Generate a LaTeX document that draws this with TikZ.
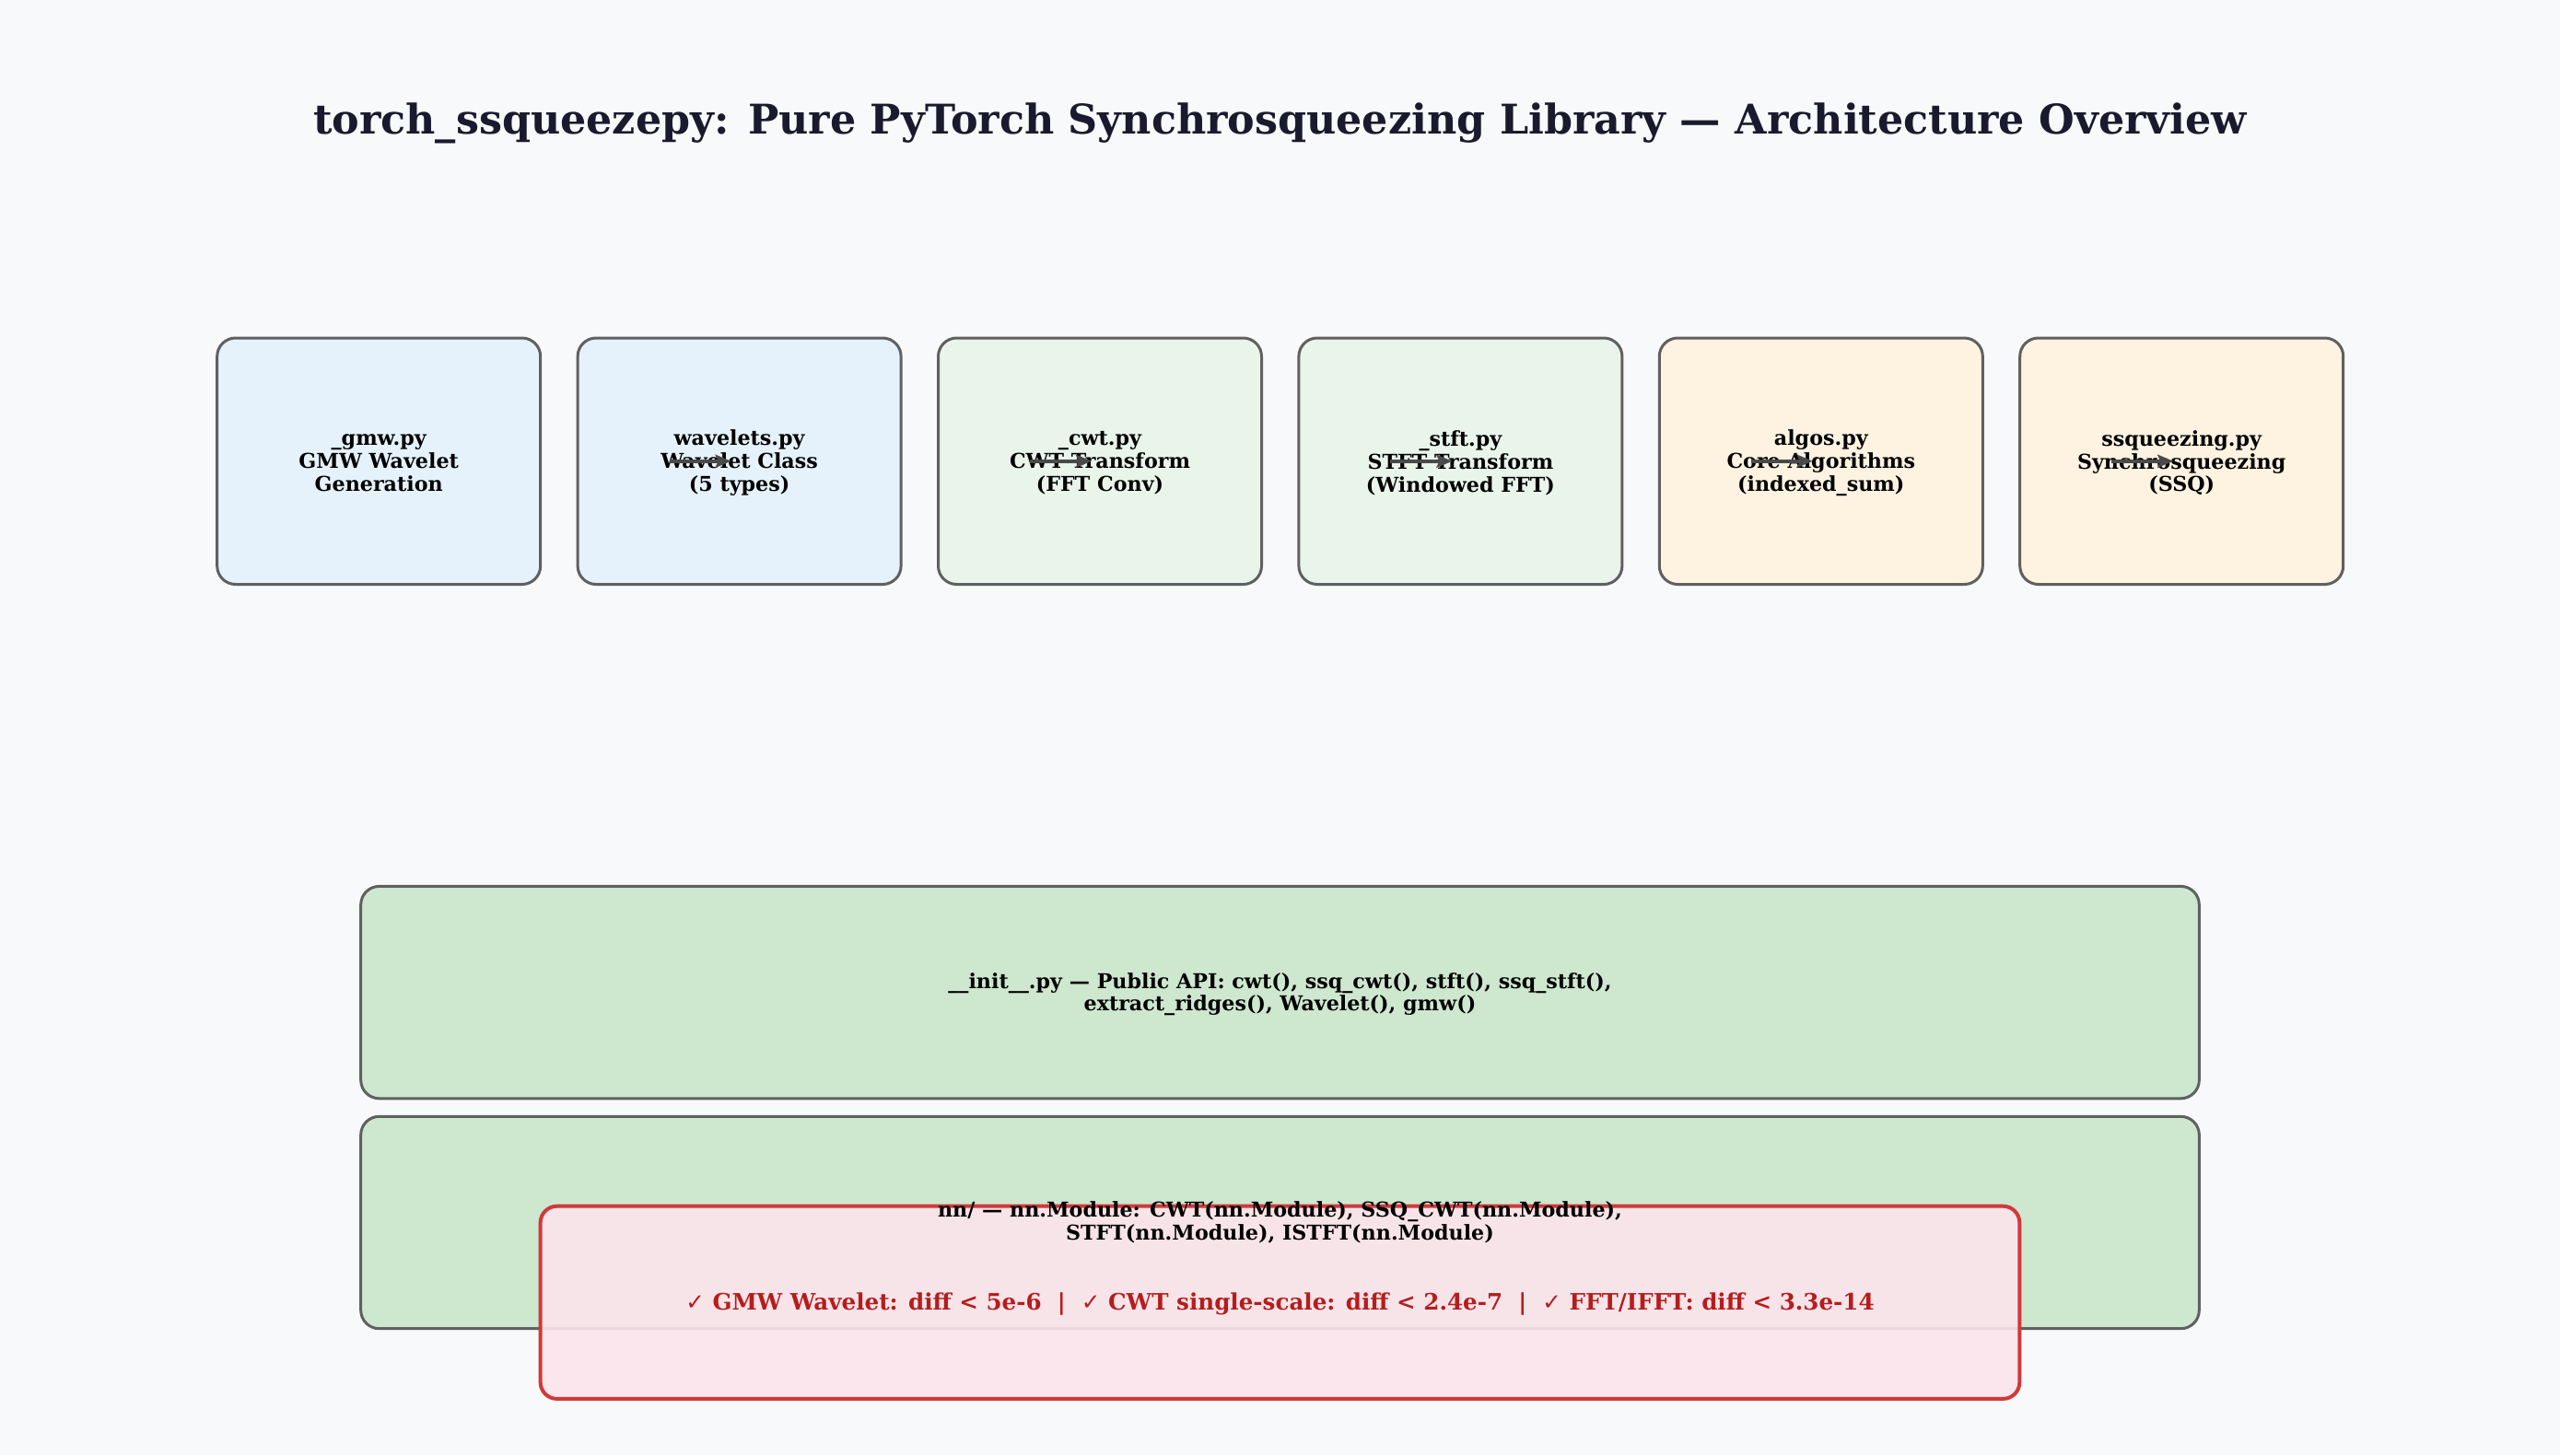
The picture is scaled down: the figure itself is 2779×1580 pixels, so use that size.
\documentclass[tikz,border=0pt]{standalone}
\usepackage{fontspec}
\setmainfont{DejaVu Serif}
\newfontfamily\symfont{DejaVu Sans}
\usetikzlibrary{arrows.meta}
\definecolor{bgcol}{HTML}{F8F9FA}
\definecolor{titlecol}{HTML}{1A1A2E}
\definecolor{bordercol}{HTML}{606060}
\definecolor{bluefill}{HTML}{E5F2FC}
\definecolor{greenfill}{HTML}{E9F4EA}
\definecolor{orangefill}{HTML}{FEF2E1}
\definecolor{apifill}{HTML}{CEE7CF}
\definecolor{redborder}{HTML}{D03A3A}
\definecolor{redfill}{HTML}{FCE4EC}
\definecolor{redtext}{HTML}{B71C1C}
\definecolor{arrowcol}{HTML}{4A4A4A}
\tikzset{
  filebox/.style={draw=bordercol, line width=1.5pt, rounded corners=10pt,
    minimum width=175.5pt, minimum height=133.75pt, inner sep=0pt},
  layerbox/.style={draw=bordercol, line width=1.5pt, rounded corners=10pt, fill=apifill,
    minimum width=997.8pt, minimum height=115.2pt, inner sep=0pt},
  boxtext/.style={align=center, font=\bfseries\fontsize{11.1}{12.4}\selectfont, text=black, inner sep=0pt},
  redbox/.style={draw=redborder, line width=2pt, rounded corners=9pt, fill=redfill, fill opacity=0.9,
    minimum width=802.85pt, minimum height=104.6pt, inner sep=0pt},
  conn/.style={draw=arrowcol, line width=2.2pt, -{Stealth[length=8.5pt,width=7pt,inset=1.5pt]}}
}
\begin{document}
\begin{tikzpicture}[x=0.5pt,y=-0.5pt]
\fill[bgcol] (0,0) rectangle (2779,1580);
\useasboundingbox (0,0) rectangle (2779,1580);

\node[font=\bfseries\fontsize{22.2}{26}\selectfont, text=titlecol] (title) at (1389.5,134)
  {torch\_ssqueezepy: Pure PyTorch Synchrosqueezing Library — Architecture Overview};

\node[filebox, fill=bluefill] (gmw) at (411.2,500.75) {};
\node[filebox, fill=bluefill] (wav) at (802.6,500.75) {};
\node[filebox, fill=greenfill] (cwt) at (1194,500.75) {};
\node[filebox, fill=greenfill] (stft) at (1585.4,500.75) {};
\node[filebox, fill=orangefill] (algos) at (1976.8,500.75) {};
\node[filebox, fill=orangefill] (ssq) at (2368.2,500.75) {};

\node[boxtext] (gmwt) at ([yshift=-1pt]gmw.center) {\_gmw.py\\GMW Wavelet\\Generation};
\node[boxtext] (wavt) at ([yshift=-1pt]wav.center) {wavelets.py\\Wavelet Class\\(5 types)};
\node[boxtext] (cwtt) at ([yshift=-1pt]cwt.center) {\_cwt.py\\CWT Transform\\(FFT Conv)};
\node[boxtext] (stftt) at ([yshift=-1pt]stft.center) {\_stft.py\\STFT Transform\\(Windowed FFT)};
\node[boxtext] (algost) at ([yshift=-1pt]algos.center) {algos.py\\Core Algorithms\\(indexed\_sum)};
\node[boxtext] (ssqt) at ([yshift=-1pt]ssq.center) {ssqueezing.py\\Synchrosqueezing\\(SSQ)};

\node[layerbox] (api) at (1389.5,1077.6) {};
\node[layerbox] (nn) at (1389.5,1327.5) {};
\node[redbox] (val) at (1389.5,1414.3) {};

\node[boxtext] (apitext) at ([yshift=-1pt]api.center)
  {\_\_init\_\_.py — Public API: cwt(), ssq\_cwt(), stft(), ssq\_stft(),\\extract\_ridges(), Wavelet(), gmw()};
\node[boxtext] (nntext) at (1389.5,1327)
  {nn/ — nn.Module: CWT(nn.Module), SSQ\_CWT(nn.Module),\\STFT(nn.Module), ISTFT(nn.Module)};
\node[font=\bfseries\fontsize{12.3}{14}\selectfont, text=redtext, inner sep=0pt] (valtext) at (1389.5,1416)
  {{\symfont ✓} GMW Wavelet: diff < 5e-6\ \ |\ \ {\symfont ✓} CWT single-scale: diff < 2.4e-7\ \ |\ \ {\symfont ✓} FFT/IFFT: diff < 3.3e-14};

\foreach \a/\b in {gmw/wav, wav/cwt, cwt/stft, stft/algos, algos/ssq}{
  \coordinate (\a-\b-s) at ([xshift=-38pt]\b.center);
  \coordinate (\a-\b-e) at ([xshift=-4.5pt]\b.center);
  \draw[conn] (\a-\b-s) -- (\a-\b-e);
}
\end{tikzpicture}
\end{document}
